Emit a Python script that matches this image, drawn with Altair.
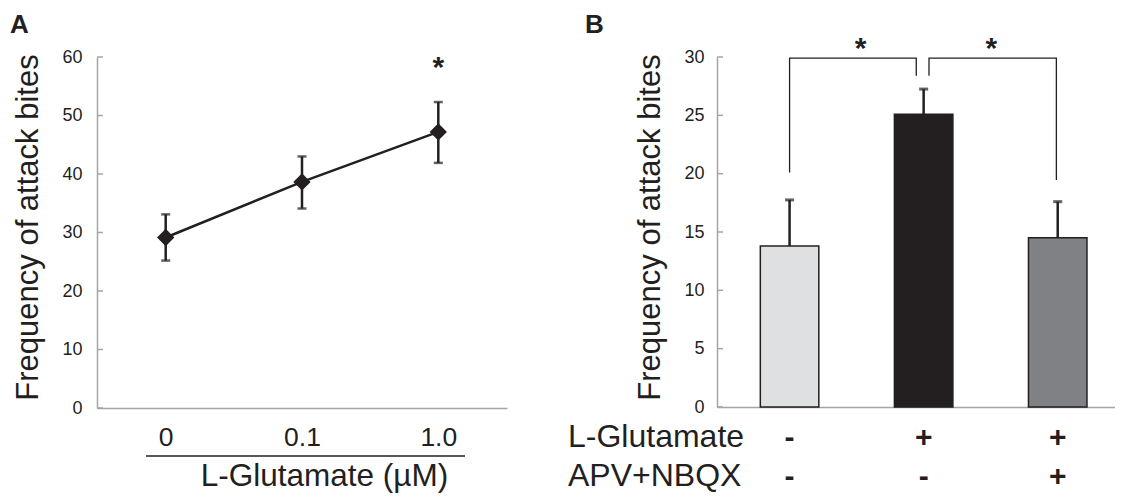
import altair as alt
import pandas as pd

FONT = "Liberation Sans"
INK = "#231f20"
AXIS_GRAY = "#a3a5a8"

# ---------------- Panel A data ----------------
conc_labels = ["0", "0.1", "1.0"]
a_mean = [29.15, 38.65, 47.2]
a_lo = [25.2, 34.1, 41.9]
a_hi = [33.1, 43.0, 52.3]
a_sig = ["", "", "*"]
a_ticks = [0, 10, 20, 30, 40, 50, 60]

# ---------------- Panel B data ----------------
b_idx = [0, 1, 2]
b_mean = [13.8, 25.1, 14.5]
b_hi = [17.75, 27.25, 17.6]
b_colors = ["#dfe0e2", "#231f20", "#808184"]
glu_signs = ["-", "+", "+"]
apv_signs = ["-", "-", "+"]
row_labels = ["L-Glutamate", "APV+NBQX"]
b_ticks = [0, 5, 10, 15, 20, 25, 30]

# significance brackets (x in bar-index units, y in data units)
brk_id = [0, 0, 0, 0, 1, 1, 1, 1]
brk_ord = [0, 1, 2, 3, 0, 1, 2, 3]
brk_x = [0, 0, 0.945, 0.945, 1.04, 1.04, 1.99, 1.99]
brk_y = [20.1, 29.9, 29.9, 28.4, 28.4, 29.9, 29.9, 19.45]
star_x = [0.53, 1.505]
star_y = [29.9, 29.9]

# ---------------- tables ----------------
dfA = pd.DataFrame({"conc": conc_labels, "mean": a_mean, "lo": a_lo, "hi": a_hi, "sig": a_sig})
dfAt = pd.DataFrame({"t": a_ticks})
dfB = pd.DataFrame({"i": b_idx, "mean": b_mean, "hi": b_hi, "color": b_colors,
                    "glu": glu_signs, "apv": apv_signs})
dfBt = pd.DataFrame({"t": b_ticks})
dfBr = pd.DataFrame({"id": brk_id, "ord": brk_ord, "x": brk_x, "y": brk_y})
dfS = pd.DataFrame({"x": star_x, "y": star_y, "s": ["*", "*"]})

WA, HA = 410, 351
WB, HB = 398, 350

# ---------------- Panel A ----------------
xA = alt.X("conc:O", sort=conc_labels,
           scale=alt.Scale(type="point", padding=0.504),
           axis=alt.Axis(labelAngle=0, ticks=False, tickSize=0, domainColor=AXIS_GRAY,
                         domainWidth=1.5, labelFont=FONT, labelFontSize=26.5,
                         labelColor=INK, labelBaseline="alphabetic", labelPadding=37,
                         title="L-Glutamate (µM)", titleFont=FONT, titleFontSize=31.5,
                         titleFontWeight="normal", titleColor=INK, titleX=227,
                         titleY=77, titleBaseline="alphabetic", titleAlign="center"))
yA_scale = alt.Scale(domain=[0, 60], nice=False)
yA = alt.Y("mean:Q", scale=yA_scale,
           axis=alt.Axis(values=a_ticks, ticks=False, tickSize=0, grid=False,
                         domainColor=AXIS_GRAY, domainWidth=1.5, labelFont=FONT,
                         labelFontSize=18, labelColor=INK, labelPadding=15,
                         title="Frequency of attack bites", titleFont=FONT,
                         titleFontSize=31, titleFontWeight="normal", titleColor=INK,
                         titleX=-60, titleY=170, titleBaseline="alphabetic",
                         titleAlign="center", titleAngle=270))

baseA = alt.Chart(dfA)
lineA = baseA.mark_line(color=INK, strokeWidth=2.5).encode(x=xA, y=yA)
errA = baseA.mark_rule(color=INK, strokeWidth=2.5).encode(
    x="conc:O", y=alt.Y("lo:Q", scale=yA_scale), y2="hi:Q")
capLoA = baseA.mark_tick(color=INK, size=9, thickness=2.5, orient="horizontal").encode(
    x="conc:O", y=alt.Y("lo:Q", scale=yA_scale))
capHiA = baseA.mark_tick(color=INK, size=9, thickness=2.5, orient="horizontal").encode(
    x="conc:O", y=alt.Y("hi:Q", scale=yA_scale))
ptsA = baseA.mark_point(shape="diamond", filled=True, size=300, color=INK, opacity=1).encode(
    x="conc:O", y=alt.Y("mean:Q", scale=yA_scale))
starA = baseA.mark_text(font=FONT, fontSize=30, fontWeight="bold", color=INK,
                        baseline="alphabetic", dy=-25).encode(
    x="conc:O", y=alt.Y("hi:Q", scale=yA_scale), text="sig:N")
ticksA = alt.Chart(dfAt).mark_rule(color=AXIS_GRAY, strokeWidth=1.5).encode(
    y=alt.Y("t:Q", scale=yA_scale), x=alt.value(0), x2=alt.value(6))
underline = alt.Chart(pd.DataFrame({"k": [0]})).mark_rule(color=INK, strokeWidth=1.5).encode(
    x=alt.value(49), x2=alt.value(368), y=alt.value(399))
labA = alt.Chart(pd.DataFrame({"lab": ["A"]})).mark_text(
    font=FONT, fontSize=26, fontWeight="bold", color=INK, align="left",
    baseline="alphabetic").encode(text="lab:N", x=alt.value(-87), y=alt.value(-24))

panelA = alt.layer(lineA, errA, capLoA, capHiA, ptsA, starA, ticksA, underline, labA).properties(
    width=WA, height=HA)

# ---------------- Panel B ----------------
xB_scale = alt.Scale(domain=[-0.504, 2.39], nice=False, zero=False)
yB_scale = alt.Scale(domain=[0, 30], nice=False)
xB = alt.X("i:Q", scale=xB_scale,
           axis=alt.Axis(labels=False, ticks=False, tickSize=0, grid=False, title=None,
                         domainColor=AXIS_GRAY, domainWidth=1.5))
yB = alt.Y("mean:Q", scale=yB_scale,
           axis=alt.Axis(values=b_ticks, ticks=False, tickSize=0, grid=False,
                         domainColor=AXIS_GRAY, domainWidth=1.5, labelFont=FONT,
                         labelFontSize=18, labelColor=INK, labelPadding=13,
                         title="Frequency of attack bites", titleFont=FONT,
                         titleFontSize=31, titleFontWeight="normal", titleColor=INK,
                         titleX=-58, titleY=170, titleBaseline="alphabetic",
                         titleAlign="center", titleAngle=270))

baseB = alt.Chart(dfB)
barsB = baseB.mark_bar(size=58.5, stroke=INK, strokeWidth=1.5).encode(
    x=xB, y=yB, color=alt.Color("color:N", scale=None))
errB = baseB.mark_rule(color=INK, strokeWidth=2.5).encode(
    x=alt.X("i:Q", scale=xB_scale), y=alt.Y("mean:Q", scale=yB_scale), y2="hi:Q")
capB = baseB.mark_tick(color=INK, size=9, thickness=3, orient="horizontal").encode(
    x=alt.X("i:Q", scale=xB_scale), y=alt.Y("hi:Q", scale=yB_scale))
ticksB = alt.Chart(dfBt).mark_rule(color=AXIS_GRAY, strokeWidth=1.5).encode(
    y=alt.Y("t:Q", scale=yB_scale), x=alt.value(0), x2=alt.value(6))
brk = alt.Chart(dfBr).mark_line(color=INK, strokeWidth=1.3).encode(
    x=alt.X("x:Q", scale=xB_scale), y=alt.Y("y:Q", scale=yB_scale),
    detail="id:N", order="ord:Q")
starB = alt.Chart(dfS).mark_text(font=FONT, fontSize=30, fontWeight="bold", color=INK,
                                 baseline="alphabetic", dy=0).encode(
    x=alt.X("x:Q", scale=xB_scale), y=alt.Y("y:Q", scale=yB_scale), text="s:N")
gluRow = baseB.mark_text(font=FONT, fontSize=30, fontWeight="bold", color=INK,
                         baseline="alphabetic").encode(
    x=alt.X("i:Q", scale=xB_scale), y=alt.value(390), text="glu:N")
apvRow = baseB.mark_text(font=FONT, fontSize=30, fontWeight="bold", color=INK,
                         baseline="alphabetic").encode(
    x=alt.X("i:Q", scale=xB_scale), y=alt.value(429), text="apv:N")
rowLab1 = alt.Chart(pd.DataFrame({"lab": row_labels[:1]})).mark_text(
    font=FONT, fontSize=32, color=INK, align="left", baseline="alphabetic").encode(
    text="lab:N", x=alt.value(-149), y=alt.value(390))
rowLab2 = alt.Chart(pd.DataFrame({"lab": row_labels[1:]})).mark_text(
    font=FONT, fontSize=32, color=INK, align="left", baseline="alphabetic").encode(
    text="lab:N", x=alt.value(-149), y=alt.value(429))
labB = alt.Chart(pd.DataFrame({"lab": ["B"]})).mark_text(
    font=FONT, fontSize=26, fontWeight="bold", color=INK, align="left",
    baseline="alphabetic").encode(text="lab:N", x=alt.value(-132), y=alt.value(-24))

panelB = alt.layer(barsB, errB, capB, ticksB, brk, starB, gluRow, apvRow,
                   rowLab1, rowLab2, labB).properties(width=WB, height=HB)

chart = alt.hconcat(panelA, panelB, spacing=210, bounds="flush").properties(
    autosize=alt.AutoSizeParams(type="none"),
    padding={"left": 89, "top": 49, "right": 1018, "bottom": 437},
).configure(font=FONT).configure_view(stroke=None)

chart.save("out.html", embed_options={"renderer": "svg", "actions": False})
